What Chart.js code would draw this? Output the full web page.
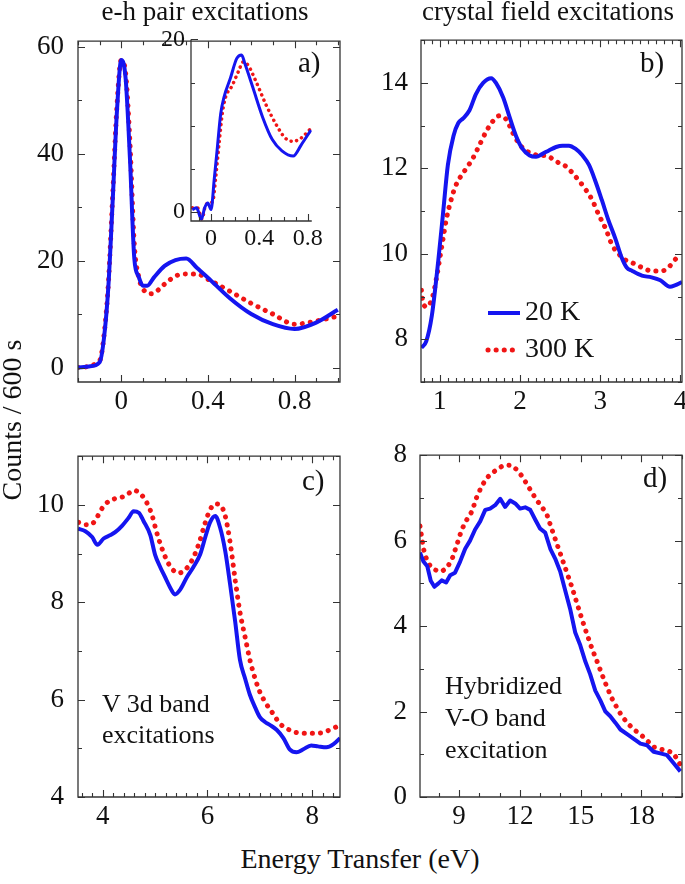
<!DOCTYPE html>
<html>
<head>
<meta charset="utf-8">
<script src="https://cdn.jsdelivr.net/npm/chart.js@4.4.1/dist/chart.umd.min.js"></script>
<style>
html, body { margin: 0; padding: 0; background: #fff; overflow: hidden; }
body { width: 685px; height: 884px; position: relative; font-family: "Liberation Serif", "Times New Roman", serif; color: #111; }
canvas { position: absolute; }
.t { position: absolute; line-height: 1; white-space: nowrap; }
</style>
</head>
<body>
<canvas id="pa" width="332" height="411" style="left:18px;top:11px"></canvas>
<canvas id="pin" width="195" height="242" style="left:131px;top:19px"></canvas>
<canvas id="pb" width="331" height="411" style="left:361px;top:11px"></canvas>
<canvas id="pc" width="332" height="411" style="left:18px;top:426px"></canvas>
<canvas id="pd" width="332" height="411" style="left:360px;top:426px"></canvas>

<div class="t" style="left:55px;top:-1.6px;width:300px;text-align:center;font-size:27px">e-h pair excitations</div>
<div class="t" style="left:398px;top:-1.6px;width:300px;text-align:center;font-size:27px">crystal field excitations</div>
<div class="t" style="left:298px;top:47.7px;font-size:29px">a)</div>
<div class="t" style="left:640px;top:47.7px;font-size:29px">b)</div>
<div class="t" style="left:302px;top:465.7px;font-size:29px">c)</div>
<div class="t" style="left:643px;top:462.7px;font-size:29px">d)</div>
<div class="t" style="left:102px;top:687.7px;font-size:26px;line-height:31px">V 3d band<br>excitations</div>
<div class="t" style="left:445px;top:670.2px;font-size:26px;line-height:32px">Hybridized<br>V-O band<br>excitation</div>
<div class="t" style="left:-138px;top:406px;width:300px;text-align:center;font-size:28px;transform:rotate(-90deg)">Counts / 600 s</div>
<div class="t" style="left:210px;top:844.5px;width:300px;text-align:center;font-size:28px">Energy Transfer (eV)</div>

<script>
const blue = '#1515f0';
const red = '#f01515';
const serif = '"Liberation Serif", "Times New Roman", serif';
Chart.defaults.font.family = serif;
Chart.defaults.color = '#111';

// a) e-h pair excitations
const aX20 = [-0.2, -0.15, -0.1, -0.08, -0.06, -0.04, -0.02, 0, 0.02, 0.04, 0.06, 0.08, 0.1, 0.12, 0.15, 0.2, 0.25, 0.3, 0.35, 0.4, 0.5, 0.6, 0.7, 0.8, 0.9, 1.0];
const aY20 = [0, 0.2, 1, 5.5, 15, 31, 48, 57.5, 54, 39, 20.4, 17, 15.3, 15.3, 16.8, 19, 20.1, 20.4, 18.6, 16.8, 13, 10, 8.1, 7.2, 8.4, 10.8];
const aX300 = [-0.2, -0.1, -0.08, -0.06, -0.04, -0.02, 0, 0.02, 0.04, 0.06, 0.08, 0.1, 0.14, 0.2, 0.25, 0.3, 0.35, 0.4, 0.5, 0.6, 0.7, 0.8, 0.9, 1.0];
const aY300 = [0, 1.3, 6, 15.6, 32, 49, 57.5, 55, 42, 23, 17, 14.7, 13.8, 15.6, 17.1, 17.5, 17.5, 16.5, 14.3, 12, 10, 8.1, 8.7, 9.6];

// inset of a)
const inX20 = [-0.155, -0.12, -0.08, -0.053, -0.027, 0, 0.027, 0.053, 0.08, 0.107, 0.16, 0.213, 0.253, 0.28, 0.347, 0.427, 0.507, 0.587, 0.68, 0.747, 0.827];
const inY20 = [0.3, 0.5, -0.8, 0.5, 1.05, 0.3, 3.9, 7.6, 11.4, 13.3, 15.5, 17.8, 18.2, 17.2, 14.4, 11, 8.4, 7.1, 6.5, 7.8, 9.5];
const inX300 = [-0.155, -0.112, -0.075, -0.048, -0.021, 0.013, 0.04, 0.067, 0.093, 0.12, 0.173, 0.227, 0.267, 0.307, 0.373, 0.453, 0.533, 0.613, 0.68, 0.747, 0.827];
const inY300 = [0.5, 0.5, -0.8, 0.7, 1.05, 1.2, 4.2, 8, 11.4, 13.3, 14.6, 16.3, 17.4, 17, 15.1, 12.5, 10.3, 8.6, 8.2, 8.6, 9.7];

// b) crystal field excitations
const bX20 = [0.77, 0.83, 0.9, 0.98, 1.04, 1.1, 1.17, 1.23, 1.29, 1.37, 1.45, 1.54, 1.64, 1.70, 1.79, 1.87, 1.95, 2.03, 2.12, 2.2, 2.28, 2.36, 2.45, 2.53, 2.61, 2.69, 2.78, 2.86, 2.94, 3.02, 3.1, 3.19, 3.27, 3.33, 3.4, 3.52, 3.64, 3.75, 3.87, 3.93, 4.02];
const bY20 = [7.8, 7.95, 8.55, 9.83, 10.95, 12.08, 12.76, 13.06, 13.17, 13.36, 13.74, 14.0, 14.11, 14.0, 13.66, 13.2, 12.76, 12.46, 12.3, 12.27, 12.34, 12.42, 12.5, 12.53, 12.53, 12.46, 12.3, 12.08, 11.7, 11.26, 10.8, 10.35, 9.9, 9.68, 9.6, 9.49, 9.45, 9.38, 9.23, 9.26, 9.34];
const bX300 = [0.77, 0.79, 0.84, 0.91, 0.96, 1.0, 1.04, 1.08, 1.14, 1.19, 1.25, 1.33, 1.41, 1.5, 1.58, 1.66, 1.74, 1.83, 1.91, 1.99, 2.07, 2.16, 2.24, 2.32, 2.4, 2.49, 2.57, 2.65, 2.74, 2.82, 2.9, 2.98, 3.07, 3.15, 3.23, 3.31, 3.4, 3.52, 3.64, 3.77, 3.85, 3.95];
const bY300 = [9.15, 8.85, 8.76, 9.0, 9.45, 9.9, 10.35, 10.8, 11.26, 11.56, 11.78, 12.0, 12.23, 12.57, 12.87, 13.1, 13.23, 13.14, 12.83, 12.57, 12.42, 12.34, 12.3, 12.3, 12.23, 12.12, 12.05, 11.9, 11.7, 11.5, 11.26, 10.92, 10.58, 10.2, 10.0, 9.86, 9.79, 9.68, 9.6, 9.6, 9.68, 9.9];

// c) V 3d band excitations
const cX20 = [3.53, 3.67, 3.8, 3.9, 4.02, 4.15, 4.24, 4.37, 4.5, 4.59, 4.69, 4.78, 4.91, 5.0, 5.1, 5.19, 5.29, 5.38, 5.48, 5.61, 5.73, 5.86, 5.96, 6.05, 6.15, 6.24, 6.34, 6.43, 6.53, 6.62, 6.72, 6.81, 6.91, 7.0, 7.1, 7.19, 7.32, 7.45, 7.57, 7.7, 7.83, 7.98, 8.11, 8.27, 8.4, 8.53];
const cY20 = [9.51, 9.46, 9.34, 9.18, 9.31, 9.38, 9.44, 9.57, 9.74, 9.87, 9.84, 9.67, 9.38, 8.98, 8.72, 8.52, 8.3, 8.16, 8.26, 8.52, 8.72, 8.98, 9.34, 9.64, 9.77, 9.54, 9.05, 8.39, 7.6, 6.82, 6.43, 6.1, 5.84, 5.64, 5.54, 5.48, 5.38, 5.21, 4.98, 4.92, 4.98, 5.06, 5.04, 5.02, 5.08, 5.21];
const cX300 = [3.54, 3.67, 3.8, 3.89, 3.99, 4.11, 4.24, 4.37, 4.5, 4.59, 4.72, 4.85, 4.94, 5.03, 5.13, 5.23, 5.32, 5.45, 5.57, 5.7, 5.83, 5.96, 6.05, 6.15, 6.24, 6.34, 6.43, 6.53, 6.62, 6.72, 6.81, 6.91, 7.0, 7.13, 7.26, 7.38, 7.51, 7.64, 7.83, 8.02, 8.18, 8.34, 8.46];
const cY300 = [9.64, 9.59, 9.61, 9.74, 9.93, 10.07, 10.13, 10.16, 10.24, 10.3, 10.23, 10.03, 9.8, 9.44, 9.11, 8.85, 8.69, 8.6, 8.66, 8.85, 9.18, 9.64, 9.9, 10.02, 10.0, 9.77, 9.25, 8.46, 7.8, 7.28, 6.82, 6.43, 6.16, 5.9, 5.7, 5.51, 5.41, 5.34, 5.31, 5.31, 5.32, 5.38, 5.44];

// d) hybridized V-O band excitation
const dX20 = [7.07, 7.24, 7.43, 7.6, 7.78, 7.98, 8.14, 8.36, 8.56, 8.8, 9.05, 9.3, 9.54, 9.79, 10.04, 10.29, 10.53, 10.78, 11.03, 11.27, 11.52, 11.77, 12.01, 12.26, 12.51, 12.76, 13.0, 13.25, 13.5, 13.74, 13.99, 14.24, 14.49, 14.73, 14.98, 15.23, 15.47, 15.72, 15.97, 16.22, 16.46, 16.71, 16.96, 17.29, 17.62, 17.95, 18.28, 18.6, 18.93, 19.26, 19.59, 19.92];
const dY20 = [5.72, 5.51, 5.4, 5.06, 4.92, 5.0, 5.07, 5.02, 5.19, 5.25, 5.51, 5.81, 6.0, 6.26, 6.45, 6.72, 6.75, 6.83, 6.98, 6.79, 6.94, 6.87, 6.75, 6.78, 6.72, 6.49, 6.28, 6.19, 5.81, 5.58, 5.28, 4.83, 4.38, 3.85, 3.55, 3.17, 2.87, 2.49, 2.26, 2.0, 1.89, 1.74, 1.58, 1.47, 1.36, 1.25, 1.21, 1.06, 1.02, 0.98, 0.79, 0.6];
const dX300 = [7.07, 7.24, 7.43, 7.65, 7.89, 8.14, 8.39, 8.64, 8.88, 9.13, 9.38, 9.63, 9.87, 10.12, 10.37, 10.61, 10.86, 11.11, 11.36, 11.6, 11.85, 12.1, 12.35, 12.59, 12.84, 13.09, 13.34, 13.58, 13.83, 14.08, 14.32, 14.57, 14.82, 15.07, 15.31, 15.56, 15.81, 16.05, 16.3, 16.55, 16.8, 17.04, 17.29, 17.62, 17.95, 18.28, 18.6, 18.93, 19.26, 19.59, 19.92];
const dY300 = [6.34, 5.81, 5.51, 5.36, 5.3, 5.28, 5.36, 5.55, 5.89, 6.26, 6.49, 6.68, 7.02, 7.28, 7.47, 7.58, 7.66, 7.74, 7.77, 7.76, 7.66, 7.51, 7.32, 7.13, 6.94, 6.79, 6.6, 6.26, 5.92, 5.58, 5.25, 4.91, 4.53, 4.15, 3.81, 3.47, 3.17, 2.87, 2.57, 2.3, 2.08, 1.89, 1.74, 1.58, 1.47, 1.32, 1.17, 1.12, 1.09, 1.02, 0.75];

// tick labels
const aXTicks = [0, 0.4, 0.8], aYTicks = [0, 20, 40, 60];
const inXTicks = [0, 0.4, 0.8], inYTicks = [0, 20];
const bXTicks = [1, 2, 3, 4], bYTicks = [8, 10, 12, 14];
const cXTicks = [4, 6, 8], cYTicks = [4, 6, 8, 10];
const dXTicks = [9, 12, 15, 18], dYTicks = [0, 2, 4, 6, 8];
const seriesNames = ['20 K', '300 K'];

function pts(xs, ys) {
    if (xs.length !== ys.length) console.warn('length mismatch', xs.length, ys.length);
    return xs.map((x, i) => ({ x: x, y: ys[i] }));
}

// frame + inward ticks (minor ones too)
const frameTicks = {
    id: 'frameTicks',
    afterDraw(chart, args, o) {
        const { ctx, chartArea: { left, top, right, bottom }, scales: { x, y } } = chart;
        ctx.save();
        ctx.strokeStyle = '#333';
        ctx.lineWidth = 1.3;
        ctx.beginPath();
        if (o.box) {
            ctx.rect(left, top, right - left, bottom - top);
        } else {
            ctx.moveTo(left, top);
            ctx.lineTo(left, bottom);
            ctx.lineTo(right, bottom);
        }
        ctx.stroke();
        ctx.lineWidth = 1.1;
        ctx.beginPath();
        const isMajor = (v, list) => list.some(m => Math.abs(m - v) < 1e-6);
        for (let i = Math.ceil(x.min / o.xStep - 1e-6); i * o.xStep <= x.max + 1e-6; i++) {
            const v = i * o.xStep;
            const len = isMajor(v, o.xMajor) ? 7 : 4;
            const px = Math.round(x.getPixelForValue(v)) + 0.5;
            ctx.moveTo(px, bottom); ctx.lineTo(px, bottom - len);
            if (o.box) { ctx.moveTo(px, top); ctx.lineTo(px, top + len); }
        }
        for (let i = Math.ceil(y.min / o.yStep - 1e-6); i * o.yStep <= y.max + 1e-6; i++) {
            const v = i * o.yStep;
            const len = isMajor(v, o.yMajor) ? 7 : 4;
            const py = Math.round(y.getPixelForValue(v)) + 0.5;
            ctx.moveTo(left, py); ctx.lineTo(left + len, py);
            if (o.box) { ctx.moveTo(right, py); ctx.lineTo(right - len, py); }
        }
        ctx.stroke();
        ctx.restore();
    }
};

// legend drawn inside panel b
const keyBox = {
    id: 'keyBox',
    afterDraw(chart, args, o) {
        if (!o || !o.show) return;
        const ctx = chart.ctx;
        chart.data.datasets.forEach((ds, i) => {
            const yy = o.y0 + i * o.dy;
            ctx.save();
            ctx.strokeStyle = ds.borderColor;
            ctx.lineWidth = ds.borderWidth;
            ctx.lineCap = ds.borderCapStyle || 'butt';
            ctx.setLineDash(ds.borderDash || []);
            ctx.beginPath();
            ctx.moveTo(o.x0, yy);
            ctx.lineTo(o.x0 + o.len, yy);
            ctx.stroke();
            ctx.setLineDash([]);
            ctx.fillStyle = '#111';
            ctx.font = '28px ' + serif;
            ctx.textBaseline = 'middle';
            ctx.fillText(ds.label, o.x0 + o.len + o.gap, yy);
            ctx.restore();
        });
    }
};

function makePanel(id, p) {
    const smooth = p.smooth ? { cubicInterpolationMode: 'monotone' } : { tension: 0 };
    new Chart(document.getElementById(id), {
        type: 'line',
        data: {
            datasets: [
                Object.assign({
                    label: seriesNames[0],
                    data: pts(p.x20, p.y20),
                    borderColor: blue,
                    borderWidth: p.lw || 4,
                    pointRadius: 0,
                    borderJoinStyle: 'round'
                }, smooth),
                Object.assign({
                    label: seriesNames[1],
                    data: pts(p.x300, p.y300),
                    borderColor: red,
                    borderWidth: p.dw || 5,
                    borderDash: [0.1, p.gap || 8],
                    borderCapStyle: 'round',
                    pointRadius: 0
                }, smooth)
            ]
        },
        options: {
            responsive: false,
            animation: false,
            events: [],
            layout: { padding: { top: 16, right: 10, left: 0, bottom: 0 } },
            plugins: {
                legend: { display: false },
                tooltip: { enabled: false },
                frameTicks: { box: p.box, xStep: p.xStep, yStep: p.yStep, xMajor: p.xTicks, yMajor: p.yTicks },
                keyBox: p.key || { show: false }
            },
            scales: {
                x: {
                    type: 'linear', min: p.xMin, max: p.xMax,
                    grid: { display: false, drawTicks: false },
                    border: { display: false },
                    afterBuildTicks: s => { s.ticks = p.xTicks.map(v => ({ value: v })); },
                    afterFit: s => { s.height = 40; },
                    ticks: {
                        color: '#111', font: { family: serif, size: p.fs }, padding: p.xPad,
                        maxRotation: 0, autoSkip: false, callback: v => String(v)
                    }
                },
                y: {
                    type: 'linear', min: p.yMin, max: p.yMax,
                    grid: { display: false, drawTicks: false },
                    border: { display: false },
                    afterBuildTicks: s => { s.ticks = p.yTicks.map(v => ({ value: v })); },
                    afterFit: s => { s.width = 60; },
                    ticks: {
                        color: '#111', font: { family: serif, size: p.fs }, padding: p.yPad,
                        autoSkip: false, callback: v => String(v)
                    }
                }
            }
        },
        plugins: [frameTicks, keyBox]
    });
}

makePanel('pa', {
    x20: aX20, y20: aY20, x300: aX300, y300: aY300, smooth: true, box: true,
    xMin: -0.2, xMax: 1.01, yMin: -2.7, yMax: 61,
    xTicks: aXTicks, yTicks: aYTicks, xStep: 0.1, yStep: 10, fs: 27, xPad: 4, yPad: 14
});
makePanel('pin', {
    x20: inX20, y20: inY20, x300: inX300, y300: inY300, smooth: true, box: false,
    xMin: -0.166, xMax: 0.834, yMin: -1.02, yMax: 20,
    xTicks: inXTicks, yTicks: inYTicks, xStep: 0.1, yStep: 5, fs: 24, xPad: 3, yPad: 6,
    lw: 3, dw: 3.5, gap: 5.5
});
makePanel('pb', {
    x20: bX20, y20: bY20, x300: bX300, y300: bY300, smooth: true, box: true,
    xMin: 0.765, xMax: 4.02, yMin: 7.0, yMax: 15.0,
    xTicks: bXTicks, yTicks: bYTicks, xStep: 0.1, yStep: 1, fs: 27, xPad: 4, yPad: 13,
    key: { show: true, x0: 127, len: 32, gap: 5, y0: 302, dy: 37 }
});
makePanel('pc', {
    x20: cX20, y20: cY20, x300: cX300, y300: cY300, smooth: true, box: true,
    xMin: 3.53, xMax: 8.53, yMin: 4, yMax: 11,
    xTicks: cXTicks, yTicks: cYTicks, xStep: 0.2, yStep: 1, fs: 27, xPad: 4, yPad: 14
});
makePanel('pd', {
    x20: dX20, y20: dY20, x300: dX300, y300: dY300, smooth: false, box: true,
    xMin: 7.07, xMax: 20.0, yMin: 0, yMax: 8,
    xTicks: dXTicks, yTicks: dYTicks, xStep: 1, yStep: 1, fs: 27, xPad: 4, yPad: 13
});
</script>
</body>
</html>
